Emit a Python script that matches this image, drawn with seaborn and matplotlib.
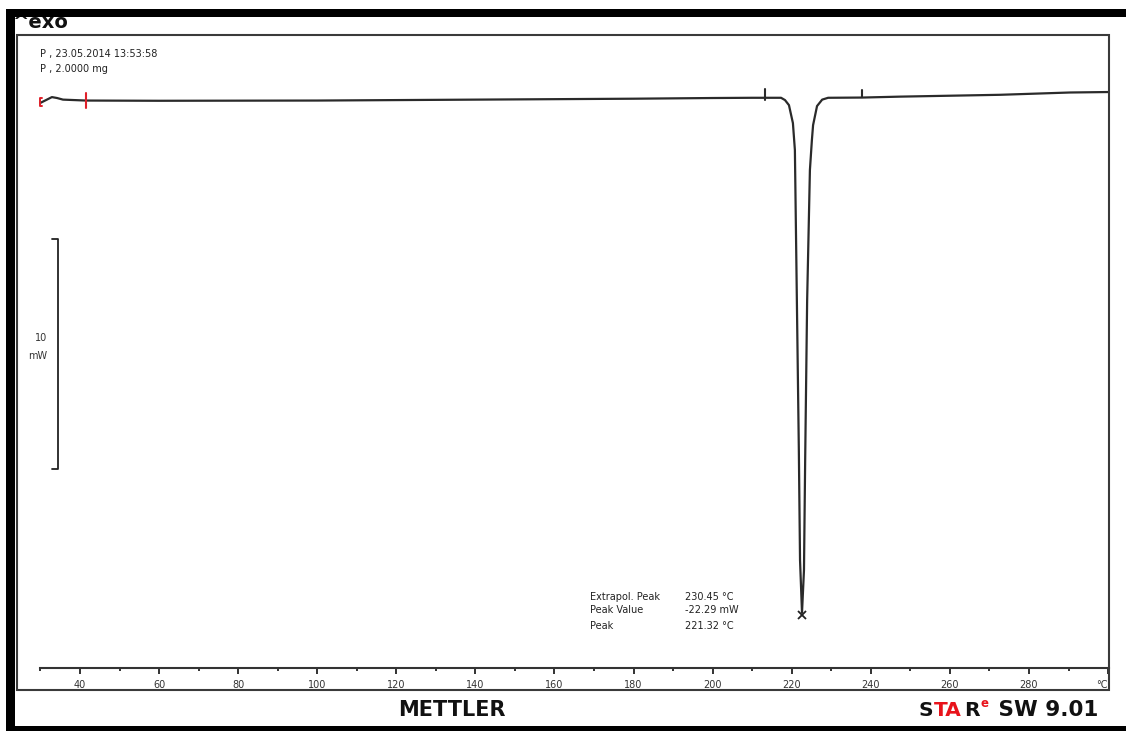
import numpy as np
import pandas as pd
import matplotlib
matplotlib.use("Agg")
import matplotlib.pyplot as plt
from matplotlib.patches import Rectangle
from matplotlib.text import Annotation
import seaborn as sns

# ---------------- data ----------------
temperature = [29.9, 31.4, 32.9, 34.2, 35.7, 41.5, 60, 100, 140, 180, 200, 210,
               213.2, 217.3, 218.3, 219.3, 220.3, 220.8, 221.3, 221.8, 222.1,
               222.6, 223.1, 223.4, 223.9, 224.6, 225.1, 225.4, 226.4, 227.7,
               229.2, 237.8, 247.4, 272.7, 290.4, 300.0]
heat_flow = [-0.13, 0.00, 0.13, 0.09, 0.02, -0.02, -0.03, -0.02, 0.02, 0.06, 0.09, 0.10,
             0.10, 0.10, 0.00, -0.22, -1.00, -2.17, -8.70, -15.22, -20.00,
             -22.29, -20.43, -15.65, -8.70, -3.04, -1.74, -1.09, -0.26, 0.02,
             0.10, 0.11, 0.15, 0.23, 0.33, 0.35]

major_ticks = [40, 60, 80, 100, 120, 140, 160, 180, 200, 220, 240, 260, 280, 300]
tick_labels = ["40", "60", "80", "100", "120", "140", "160", "180", "200", "220",
               "240", "260", "280", "°C"]
minor_ticks = [30, 50, 70, 90, 110, 130, 150, 170, 190, 210, 230, 250, 270, 290]

header_lines = ["P , 23.05.2014 13:53:58", "P , 2.0000 mg"]
result_names = ["Extrapol. Peak", "Peak Value", "Peak"]
result_values = ["230.45 °C", "-22.29 mW", "221.32 °C"]
peak_T, peak_mW = 222.6, -22.39
limit_marks = [213.2, 237.8]
scale_bar_mW = 10

# ---------------- figure ----------------
W, H = 1126, 731
sns.set_theme(style="white")
plt.rcParams["font.family"] = ["DejaVu Sans"]

fig = plt.figure(figsize=(W / 100, H / 100), dpi=100)
fig.patch.set_facecolor("white")


def fx(px):
    return px / W


def fy(py):
    return 1 - py / H


ax = fig.add_axes([fx(17), fy(690), (1109 - 17) / W, (690 - 35) / H])
ax.set_facecolor("none")

df = pd.DataFrame({"T": temperature, "mW": heat_flow})
sns.lineplot(data=df, x="T", y="mW", ax=ax, color="#2a2a2a", lw=1.6,
             sort=False, estimator=None)

XMIN, XMAX = 24.07, 300.24
YMIN, YMAX = -25.65, 2.83
AXIS_Y = -24.70
ax.set_xlim(XMIN, XMAX)
ax.set_ylim(YMIN, YMAX)

for s in ["top", "left", "right"]:
    ax.spines[s].set_visible(False)
ax.spines["bottom"].set_position(("data", AXIS_Y))
ax.spines["bottom"].set_bounds(30, XMAX)
ax.spines["bottom"].set_color("#333333")
ax.spines["bottom"].set_linewidth(1.5)

ax.set_xticks(major_ticks, labels=tick_labels)
ax.set_xticks(minor_ticks, minor=True)
ax.tick_params(axis="x", which="major", bottom=True, direction="out", length=4.2,
               width=1.3, color="#222222", labelsize=7, labelcolor="#333333", pad=4.5)
ax.tick_params(axis="x", which="minor", bottom=True, direction="out", length=2.4,
               width=1.3, color="#222222")
ax.get_xticklabels()[-1].set_ha("right")
ax.set_yticks([])
ax.set_xlabel("")
ax.set_ylabel("")

# start markers (red) and limit marks (black)
ax.plot([30.5, 29.9, 29.9, 30.5], [0.10, 0.10, -0.27, -0.27], color="#e0202a", lw=1.4)
ax.plot([41.5, 41.5], [0.30, -0.35], color="#e0202a", lw=1.5)
ax.plot([limit_marks[0]] * 2, [0.48, 0.02], color="#2a2a2a", lw=1.5)
ax.plot([limit_marks[1]] * 2, [0.43, 0.12], color="#2a2a2a", lw=1.5)

# peak marker
ax.plot([peak_T], [peak_mW], marker="x", ms=6, mew=1.3, color="#222222", ls="none")

# scale bar (10 mW)
top_mW = -6.04
ax.plot([32.9, 34.45, 34.45, 32.9],
        [top_mW, top_mW, top_mW - scale_bar_mW, top_mW - scale_bar_mW],
        color="#222222", lw=1.3)
ax.text(31.65, -10.33, "10", fontsize=7, color="#333333", ha="right", va="center")
ax.text(31.65, -11.13, "mW", fontsize=7, color="#333333", ha="right", va="center")

# header
ax.text(29.88, 2.00, header_lines[0], fontsize=7, color="#222222", ha="left", va="center")
ax.text(29.88, 1.33, header_lines[1], fontsize=7, color="#222222", ha="left", va="center")

# results
for i, (n, v) in enumerate(zip(result_names, result_values)):
    yy = [-21.61, -22.17, -22.87][i]
    ax.text(168.98, yy, n, fontsize=7, color="#222222", ha="left", va="center")
    ax.text(193.01, yy, v, fontsize=7, color="#222222", ha="left", va="center")

# inner box
fig.add_artist(Rectangle((fx(17), fy(690)), (1109 - 17) / W, (690 - 35) / H,
                         transform=fig.transFigure, fill=False, ec="#3a3a3a",
                         lw=1.5, zorder=3))

# "^exo" label (partially hidden by frame)
fig.text(fx(12), fy(28), "^exo", fontsize=14, fontweight="bold", color="#111111",
         ha="left", va="baseline", zorder=5)

# outer black frame
for (x0, y0, x1, y1) in [(6, 9, W, 17), (6, 9, 15, H), (6, 726, W, H)]:
    fig.add_artist(Rectangle((fx(x0), fy(y1)), (x1 - x0) / W, (y1 - y0) / H,
                             transform=fig.transFigure, fc="black", ec="none",
                             zorder=10))

# footer
fig.text(fx(452), fy(716), "METTLER", fontsize=15, fontweight="bold",
         color="#111111", ha="center", va="baseline")

red = "#e8131b"
fs = 14.5
t_s = fig.text(fx(918), fy(716), "S", fontsize=fs, fontweight="bold",
               color="#111111", ha="left", va="baseline")


def chain(prev, s, color, size=fs, yfrac=0.0, dx=0.0, ybase=None):
    coords = prev if ybase is None else (prev, ybase)
    a = Annotation(s, xy=(1, yfrac), xycoords=coords, xytext=(dx, 0),
                   textcoords="offset points", fontsize=size, fontweight="bold",
                   color=color, ha="left", va="bottom")
    fig.add_artist(a)
    return a


t_ta = chain(t_s, "TA", red, dx=1.2)
t_r = chain(t_ta, "R", "#111111", dx=1.2)
t_e = chain(t_r, "e", red, size=8.5, yfrac=0.55, dx=1.0)
t_sw = chain(t_e, " SW 9.01", "#111111", size=15.5, yfrac=0.0, dx=1.5, ybase=t_r)

fig.savefig("out.png", dpi=100, facecolor="white")
